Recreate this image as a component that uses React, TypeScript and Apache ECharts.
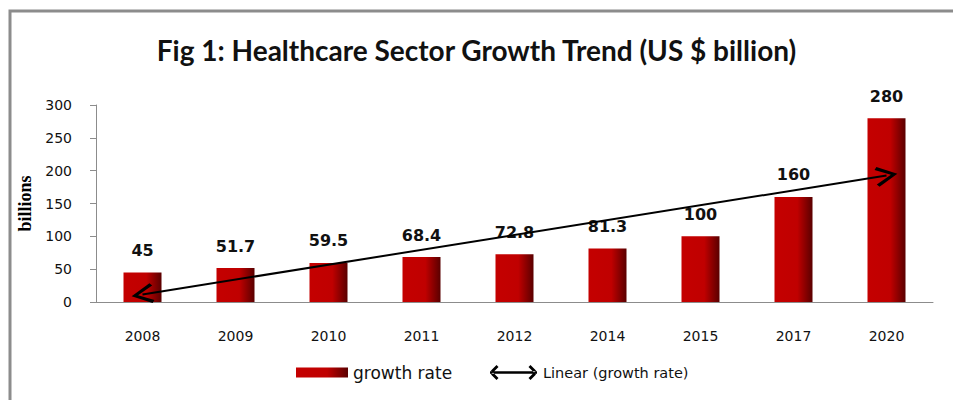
import React, { useEffect, useRef } from 'react';
import * as echarts from 'echarts';

const years = ['2008', '2009', '2010', '2011', '2012', '2014', '2015', '2017', '2020'];
const growth = [45, 51.7, 59.5, 68.4, 72.8, 81.3, 100, 160, 280];
const titleText = 'Fig 1: Healthcare Sector Growth Trend (US $ billion)';
const barName = 'growth rate';
const trendName = 'Linear (growth rate)';

// least-squares linear trendline (as the "Linear" trendline of the data)
function trend(values: number[]) {
  const n = values.length;
  const mx = (n - 1) / 2;
  const my = values.reduce((a, b) => a + b, 0) / n;
  let sxy = 0;
  let sxx = 0;
  values.forEach((v, i) => {
    sxy += (i - mx) * (v - my);
    sxx += (i - mx) * (i - mx);
  });
  const slope = sxy / sxx;
  const intercept = my - slope * mx;
  return [intercept, intercept + slope * (n - 1)];
}

const chevron = 'path://M10 0 L20 16.5 L17.4 18.5 L10 5.5 L2.6 18.5 L0 16.5 Z';
const doubleArrow =
  'path://M1 6.8 L48 6.8 L48 9.2 L1 9.2 Z M0 8 L7.5 0.5 L9.5 2.5 L2 10 Z M0 8 L7.5 15.5 L9.5 13.5 L2 6 Z M49 8 L41.5 0.5 L39.5 2.5 L47 10 Z M49 8 L41.5 15.5 L39.5 13.5 L47 6 Z';

export default function App() {
  const ref = useRef<HTMLDivElement>(null);
  useEffect(() => {
    const chart = echarts.init(ref.current!, null, { renderer: 'svg' });
    const [t0, t1] = trend(growth);
    const barGradient = {
      type: 'linear',
      x: 0,
      y: 0,
      x2: 1,
      y2: 0,
      colorStops: [
        { offset: 0, color: '#c40000' },
        { offset: 0.6, color: '#c00000' },
        { offset: 1, color: '#5a0000' },
      ],
    };
    chart.setOption({
      animation: false,
      backgroundColor: '#fff',
      title: {
        text: titleText,
        left: 'center',
        top: 31,
        textStyle: { fontFamily: 'Lato', fontWeight: 'bold', fontSize: 28, color: '#111' },
      },
      graphic: [
        {
          type: 'rect',
          shape: { x: 10, y: 11, width: 1000, height: 500 },
          style: { fill: null, stroke: '#8c8c8c', lineWidth: 3 },
          silent: true,
        },
      ],
      grid: { left: 96, right: 20, top: 105, bottom: 98, containLabel: false },
      legend: [
        {
          left: 291,
          top: 359,
          itemWidth: 52,
          itemHeight: 10,
          itemGap: 5,
          selectedMode: false,
          data: [{ name: barName, icon: 'rect' }],
          textStyle: { fontFamily: 'DejaVu Sans', fontSize: 17, color: '#111' },
        },
        {
          left: 484,
          top: 360,
          itemWidth: 49,
          itemHeight: 16,
          selectedMode: false,
          data: [{ name: trendName, icon: doubleArrow, itemStyle: { color: '#000', borderWidth: 0 } }],
          textStyle: { fontFamily: 'DejaVu Sans', fontSize: 14.5, color: '#111' },
        },
      ],
      xAxis: {
        type: 'category',
        data: years,
        axisLine: { lineStyle: { color: '#8c8c8c', width: 1 } },
        axisTick: { length: 6, lineStyle: { color: '#8c8c8c' } },
        axisLabel: { margin: 27, fontFamily: 'DejaVu Sans', fontSize: 14, color: '#111' },
      },
      yAxis: {
        type: 'value',
        min: 0,
        max: 300,
        interval: 50,
        name: 'billions',
        nameLocation: 'middle',
        nameRotate: 90,
        nameGap: 57,
        nameTextStyle: { fontFamily: 'Liberation Serif', fontWeight: 'bold', fontSize: 18, color: '#000' },
        axisLine: { show: true, lineStyle: { color: '#8c8c8c', width: 1 } },
        axisTick: { show: true, length: 6, lineStyle: { color: '#8c8c8c' } },
        splitLine: { show: false },
        axisLabel: { margin: 24, fontFamily: 'DejaVu Sans', fontSize: 14, color: '#111' },
      },
      series: [
        {
          name: barName,
          type: 'bar',
          data: growth,
          barWidth: 38,
          itemStyle: { color: barGradient },
          label: {
            show: true,
            position: 'top',
            distance: 14,
            fontFamily: 'DejaVu Sans',
            fontWeight: 'bold',
            fontSize: 16,
            color: '#111',
          },
          silent: true,
          z: 2,
        },
        {
          name: trendName,
          type: 'line',
          data: years.map(() => '-'),
          itemStyle: { color: '#000' },
          lineStyle: { color: '#000' },
          z: 5,
          markLine: {
            silent: true,
            symbol: [chevron, chevron],
            symbolSize: [20, 22],
            label: { show: false },
            lineStyle: { color: '#000', width: 2, type: 'solid' },
            emphasis: { disabled: true },
            data: [[{ coord: [years[0], t0] }, { coord: [years[years.length - 1], t1] }]],
          },
        },
      ],
    });
    return () => chart.dispose();
  }, []);
  return (
    <div
      ref={ref}
      style={{ position: 'fixed', left: 0, top: 0, width: 953, height: 400, background: '#fff' }}
    />
  );
}
